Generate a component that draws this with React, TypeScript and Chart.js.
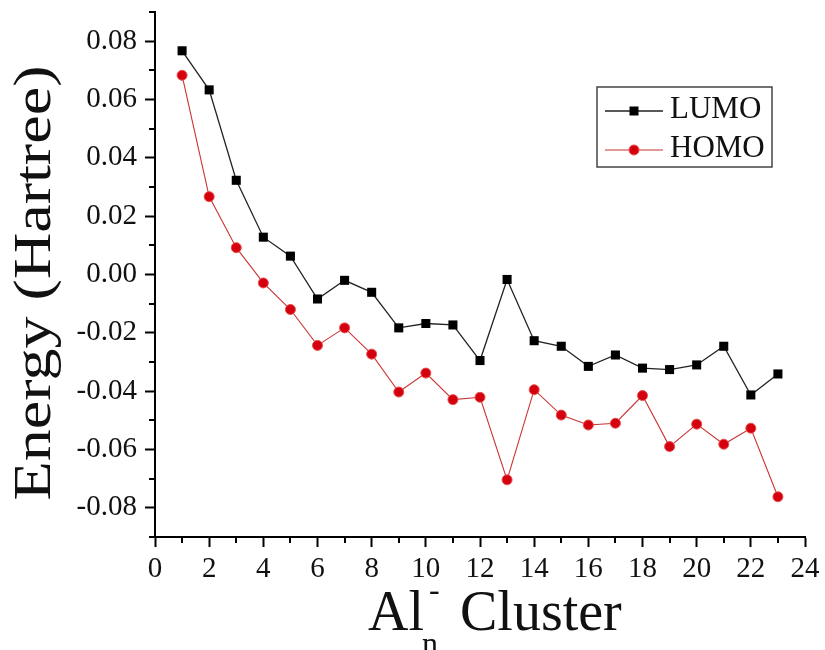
import React, { useEffect, useRef } from "react";
import { Chart, registerables } from "chart.js";

Chart.register(...registerables);

// ---- data ----
const clusterSizes = [1, 2, 3, 4, 5, 6, 7, 8, 9, 10, 11, 12, 13, 14, 15, 16, 17, 18, 19, 20, 21, 22, 23];
const lumoEnergies = [
  0.0767, 0.0633, 0.0323, 0.0128, 0.0063, -0.0084, -0.002, -0.0061, -0.0183, -0.0168, -0.0173, -0.0295,
  -0.0017, -0.0227, -0.0246, -0.0315, -0.0276, -0.0321, -0.0326, -0.031, -0.0246, -0.0413, -0.0341,
];
const homoEnergies = [
  0.0683, 0.0267, 0.0092, -0.0029, -0.012, -0.0243, -0.0183, -0.0273, -0.0403, -0.0338, -0.0429, -0.0421,
  -0.0704, -0.0395, -0.0482, -0.0516, -0.051, -0.0415, -0.059, -0.0513, -0.0582, -0.0527, -0.0762,
];
const seriesLabels = ["LUMO", "HOMO"];
const xTickValues = [0, 2, 4, 6, 8, 10, 12, 14, 16, 18, 20, 22, 24];
const xMinorTickValues = [1, 3, 5, 7, 9, 11, 13, 15, 17, 19, 21, 23];
const yTickValues = [-0.08, -0.06, -0.04, -0.02, 0, 0.02, 0.04, 0.06, 0.08];
const yMinorTickValues = [-0.09, -0.07, -0.05, -0.03, -0.01, 0.01, 0.03, 0.05, 0.07, 0.09];
const xTitleMain = "Al";
const xTitleSub = "n";
const xTitleSup = "-";
const xTitleRest = "Cluster";
const yTitle = "Energy (Hartree)";

const SERIF = "'Liberation Serif', 'Times New Roman', serif";

const minorTicksPlugin = {
  id: "minorTicks",
  afterDraw(chart: any) {
    const ctx = chart.ctx;
    const xs = chart.scales.x;
    const ys = chart.scales.y;
    ctx.save();
    ctx.strokeStyle = "#000";
    ctx.lineWidth = 2;
    ctx.beginPath();
    xMinorTickValues.forEach((v) => {
      const px = Math.round(xs.getPixelForValue(v));
      ctx.moveTo(px, xs.top);
      ctx.lineTo(px, xs.top + 6);
    });
    yMinorTickValues.forEach((v) => {
      const py = Math.round(ys.getPixelForValue(v));
      ctx.moveTo(ys.right, py);
      ctx.lineTo(ys.right - 6, py);
    });
    ctx.stroke();
    ctx.restore();
  },
};

const titlesPlugin = {
  id: "titlesCustom",
  afterDraw(chart: any) {
    const ctx = chart.ctx;
    ctx.save();
    ctx.fillStyle = "#111";
    // y title (rotated, stretched along its length like the reference)
    ctx.save();
    ctx.translate(50, 283);
    ctx.rotate(-Math.PI / 2);
    ctx.font = `53px ${SERIF}`;
    const w = ctx.measureText(yTitle).width;
    ctx.scale(435 / w, 1);
    ctx.textAlign = "center";
    ctx.textBaseline = "alphabetic";
    ctx.fillText(yTitle, 0, 0);
    ctx.restore();
    // x title: Al_n^- Cluster
    ctx.textBaseline = "alphabetic";
    ctx.textAlign = "left";
    const baseY = 630;
    let x = 368;
    ctx.font = `56px ${SERIF}`;
    ctx.fillText(xTitleMain, x, baseY);
    x += ctx.measureText(xTitleMain).width;
    ctx.font = `32px ${SERIF}`;
    ctx.fillText(xTitleSub, x - 2, baseY + 24);
    ctx.fillText(xTitleSup, x + 5, baseY - 30);
    ctx.font = `56px ${SERIF}`;
    ctx.fillText(xTitleRest, 460, baseY);
    ctx.restore();
  },
};

const boxLegendPlugin = {
  id: "boxLegend",
  afterDraw(chart: any) {
    const ctx = chart.ctx;
    const bx = 597,
      by = 87,
      bw = 175,
      bh = 80;
    ctx.save();
    ctx.fillStyle = "#fff";
    ctx.fillRect(bx, by, bw, bh);
    ctx.strokeStyle = "#444";
    ctx.lineWidth = 1.5;
    ctx.strokeRect(bx, by, bw, bh);
    const rows = [111, 150];
    chart.data.datasets.forEach((ds: any, i: number) => {
      const cy = rows[i];
      ctx.strokeStyle = ds.borderColor;
      ctx.lineWidth = ds.borderWidth;
      ctx.beginPath();
      ctx.moveTo(605, cy);
      ctx.lineTo(663, cy);
      ctx.stroke();
      ctx.fillStyle = ds.pointBackgroundColor;
      ctx.strokeStyle = ds.pointBorderColor;
      ctx.lineWidth = 1;
      if (ds.pointStyle === "rect") {
        ctx.fillRect(629.5, cy - 4.5, 9, 9);
      } else {
        ctx.beginPath();
        ctx.arc(634, cy, 5, 0, Math.PI * 2);
        ctx.fill();
        ctx.stroke();
      }
      ctx.fillStyle = "#111";
      ctx.font = `31px ${SERIF}`;
      ctx.textBaseline = "alphabetic";
      ctx.textAlign = "left";
      ctx.fillText(ds.label, 670, cy + 7);
    });
    ctx.restore();
  },
};

export default function App() {
  const ref = useRef<HTMLCanvasElement | null>(null);

  useEffect(() => {
    if (!ref.current) return;
    const chart = new Chart(ref.current, {
      type: "line",
      data: {
        datasets: [
          {
            label: seriesLabels[0],
            data: clusterSizes.map((n, i) => ({ x: n, y: lumoEnergies[i] })),
            borderColor: "#222",
            borderWidth: 1.3,
            pointStyle: "rect",
            pointRadius: 6.4,
            pointHoverRadius: 6.4,
            pointBackgroundColor: "#000",
            pointBorderColor: "#000",
            pointBorderWidth: 0,
            tension: 0,
          },
          {
            label: seriesLabels[1],
            data: clusterSizes.map((n, i) => ({ x: n, y: homoEnergies[i] })),
            borderColor: "#c33",
            borderWidth: 1.1,
            pointStyle: "circle",
            pointRadius: 5,
            pointHoverRadius: 5,
            pointBackgroundColor: "#d40010",
            pointBorderColor: "#e8504a",
            pointBorderWidth: 1,
            tension: 0,
          },
        ] as any,
      },
      options: {
        animation: false,
        responsive: false,
        maintainAspectRatio: false,
        devicePixelRatio: 1,
        layout: { padding: { top: 12, right: 20, left: 0, bottom: 0 } },
        plugins: {
          legend: { display: false },
          tooltip: { enabled: false },
          title: { display: false },
        },
        scales: {
          x: {
            type: "linear",
            min: 0,
            max: 24,
            afterBuildTicks: (scale: any) => {
              scale.ticks = xTickValues.map((v) => ({ value: v }));
            },
            afterFit: (scale: any) => {
              scale.height = 113;
              scale.paddingLeft = 0;
              scale.paddingRight = 0;
            },
            grid: {
              display: true,
              drawOnChartArea: false,
              drawTicks: true,
              tickLength: 10,
              tickColor: "#000",
              tickWidth: 2,
            },
            border: { display: true, color: "#000", width: 2 },
            ticks: {
              color: "#111",
              font: { family: SERIF, size: 29 },
              padding: 5,
              maxRotation: 0,
              autoSkip: false,
              callback: (v: any) => String(v),
            },
          },
          y: {
            type: "linear",
            min: -0.09,
            max: 0.09,
            afterBuildTicks: (scale: any) => {
              scale.ticks = yTickValues.map((v) => ({ value: v }));
            },
            afterFit: (scale: any) => {
              scale.width = 155;
              scale.paddingTop = 0;
              scale.paddingBottom = 0;
            },
            grid: {
              display: true,
              drawOnChartArea: false,
              drawTicks: true,
              tickLength: 10,
              tickColor: "#000",
              tickWidth: 2,
            },
            border: { display: true, color: "#000", width: 2 },
            ticks: {
              color: "#111",
              font: { family: SERIF, size: 29 },
              padding: 8,
              autoSkip: false,
              callback: (v: any) => Number(v).toFixed(2),
            },
          },
        },
      } as any,
      plugins: [minorTicksPlugin, titlesPlugin, boxLegendPlugin],
    });
    return () => chart.destroy();
  }, []);

  return (
    <div style={{ position: "absolute", left: 0, top: 0, width: 825, height: 650, background: "#fff" }}>
      <canvas ref={ref} width={825} height={650} style={{ width: 825, height: 650, display: "block" }} />
    </div>
  );
}
